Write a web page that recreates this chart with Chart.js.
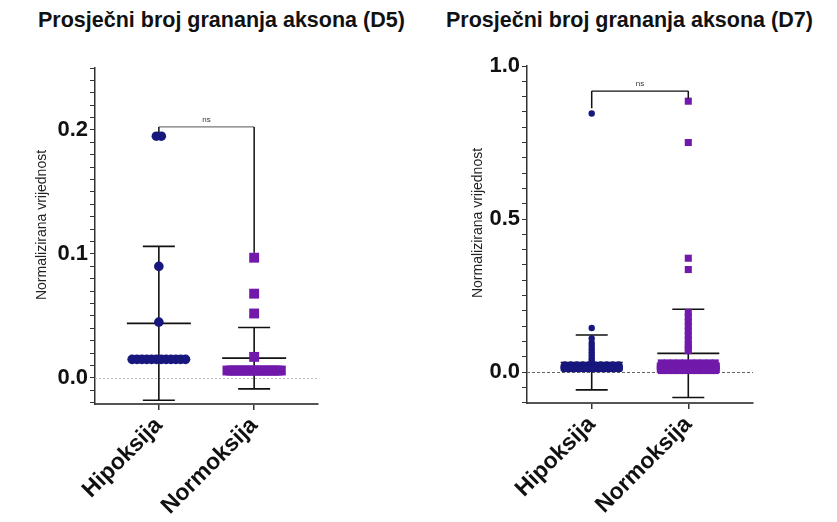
<!DOCTYPE html>
<html><head><meta charset="utf-8">
<script src="https://cdn.jsdelivr.net/npm/chart.js@4.4.0/dist/chart.umd.min.js"></script>
<style>
html,body{margin:0;padding:0;background:#fff;width:837px;height:522px;overflow:hidden;}
canvas{position:absolute;top:0;}
#c1{left:0;}
#c2{left:418px;}
.ttl{position:absolute;top:8px;font-family:"Liberation Sans",Arial,sans-serif;font-weight:bold;font-size:21.5px;line-height:24px;color:#111;white-space:nowrap;}
</style></head><body>
<div class="ttl" id="t1" style="left:38px"></div>
<div class="ttl" id="t2" style="left:446px"></div>
<canvas id="c1" width="418" height="522"></canvas>
<canvas id="c2" width="419" height="522"></canvas>
<script>
const categories = ['Hipoksija', 'Normoksija'];
const titleD5 = 'Prosječni broj grananja aksona (D5)';
const titleD7 = 'Prosječni broj grananja aksona (D7)';
const yAxisTitle = 'Normalizirana vrijednost';
const sigLabel = 'ns';

// D5 values
const d5Hipoksija = [0.195, 0.195, 0.09, 0.045,
  0.015, 0.015, 0.015, 0.015, 0.015, 0.015, 0.015, 0.015, 0.015, 0.015, 0.015, 0.015];
const d5Normoksija = [0.097, 0.068, 0.052, 0.017,
  0.006, 0.006, 0.006, 0.006, 0.006, 0.006, 0.006, 0.006, 0.006, 0.006,
  0.006, 0.006, 0.006, 0.006, 0.006, 0.006, 0.006];

// D7 values
const d7Hipoksija = [0.845, 0.144, 0.11, 0.095, 0.085, 0.075, 0.065, 0.055, 0.045, 0.038,
  0.025, 0.025, 0.025, 0.025, 0.025, 0.025, 0.025, 0.025, 0.025, 0.025,
  0.02, 0.02, 0.02, 0.02, 0.02, 0.02, 0.02, 0.02, 0.02, 0.02,
  0.02, 0.02, 0.02, 0.02, 0.02, 0.02, 0.02, 0.02, 0.02, 0.02,
  0.015, 0.015, 0.015, 0.015, 0.015, 0.015, 0.015, 0.015, 0.015, 0.015,
  0.015, 0.015, 0.015, 0.015, 0.015, 0.015, 0.015, 0.015, 0.015, 0.015,
  0.015, 0.015, 0.015, 0.015, 0.015,
  0.01, 0.01, 0.01, 0.01, 0.01, 0.01, 0.01, 0.01, 0.01, 0.01,
  0.01, 0.01, 0.01, 0.01, 0.01, 0.01, 0.01, 0.01, 0.01, 0.01,
  0.01, 0.01, 0.01, 0.01, 0.01];
const d7Normoksija = [0.885, 0.75, 0.372, 0.335,
  0.195, 0.18, 0.165, 0.15, 0.135, 0.12, 0.105, 0.09, 0.08, 0.07,
  0.03, 0.03, 0.03, 0.03, 0.03, 0.03, 0.03, 0.03, 0.03, 0.03,
  0.02, 0.02, 0.02, 0.02, 0.02, 0.02, 0.02, 0.02, 0.02, 0.02,
  0.02, 0.02, 0.02, 0.02, 0.02,
  0.01, 0.01, 0.01, 0.01, 0.01, 0.01, 0.01, 0.01, 0.01, 0.01,
  0.01, 0.01, 0.01, 0.01, 0.01, 0.01, 0.01, 0.01, 0.01, 0.01,
  0.01, 0.01, 0.01, 0.01, 0.01,
  0.005, 0.005, 0.005, 0.005, 0.005, 0.005, 0.005, 0.005, 0.005, 0.005];

// axis ticks
const d5TickValues = [0.0, 0.1, 0.2];
const d5TickLabels = ['0.0', '0.1', '0.2'];
const d7TickValues = [0.0, 0.5, 1.0];
const d7TickLabels = ['0.0', '0.5', '1.0'];

// significance brackets: [bar level, left drop end, right drop end]
const d5Bracket = [0.2025, 0.198, 0.101];
const d7Bracket = [0.918, 0.862, 0.895];

const FONT = '"Liberation Sans", Arial, Helvetica, sans-serif';
const colors = ['#17177e', '#7019aa'];
const pointStyles = ['circle', 'rect'];

document.getElementById('t1').textContent = titleD5;
document.getElementById('t2').textContent = titleD7;

function spread(values, catIndex, maxSpread, step) {
  const counts = {};
  values.forEach(v => counts[v] = (counts[v] || 0) + 1);
  const seen = {};
  return values.map(v => {
    const n = counts[v];
    const i = seen[v] = (seen[v] === undefined ? 0 : seen[v] + 1);
    const sp = n > 1 ? Math.min(step, maxSpread / (n - 1)) : 0;
    return { x: catIndex + 1 + (i - (n - 1) / 2) * sp, y: v };
  });
}

function stats(vals) {
  const n = vals.length;
  const m = vals.reduce((a, b) => a + b, 0) / n;
  const sd = Math.sqrt(vals.reduce((a, b) => a + (b - m) * (b - m), 0) / (n - 1));
  return { m, sd };
}

const gpPlugin = {
  id: 'gp',
  beforeDatasetsDraw(chart, args, o) {
    const ctx = chart.ctx, xs = chart.scales.x, ys = chart.scales.y, ca = chart.chartArea;
    ctx.save();
    ctx.strokeStyle = o.zeroColor; ctx.lineWidth = 1; ctx.setLineDash(o.zeroDash);
    const y0 = Math.round(ys.getPixelForValue(0)) + 0.5;
    ctx.beginPath(); ctx.moveTo(ca.left, y0); ctx.lineTo(ca.right, y0); ctx.stroke();
    ctx.restore();
    ctx.save();
    ctx.strokeStyle = '#111'; ctx.lineWidth = 1.6;
    chart.data.datasets.forEach((ds, i) => {
      const s = stats(ds.rawValues);
      const x = xs.getPixelForValue(i + 1);
      const yt = ys.getPixelForValue(s.m + s.sd), yb = ys.getPixelForValue(s.m - s.sd), ym = ys.getPixelForValue(s.m);
      ctx.beginPath();
      ctx.moveTo(x, yt); ctx.lineTo(x, yb);
      ctx.moveTo(x - o.capHalf, yt); ctx.lineTo(x + o.capHalf, yt);
      ctx.moveTo(x - o.capHalf, yb); ctx.lineTo(x + o.capHalf, yb);
      ctx.moveTo(x - o.meanHalf, ym); ctx.lineTo(x + o.meanHalf, ym);
      ctx.stroke();
    });
    ctx.restore();
  },
  afterDatasetsDraw(chart, args, o) {
    const ctx = chart.ctx, xs = chart.scales.x, ys = chart.scales.y;
    const b = o.bracket;
    const x1 = xs.getPixelForValue(1), x2 = xs.getPixelForValue(2);
    const yb = ys.getPixelForValue(b[0]);
    ctx.save();
    ctx.strokeStyle = o.barColor; ctx.lineWidth = 1.2;
    ctx.beginPath(); ctx.moveTo(x1, yb); ctx.lineTo(x2, yb); ctx.stroke();
    ctx.strokeStyle = '#111'; ctx.lineWidth = 1.5;
    ctx.beginPath();
    ctx.moveTo(x1, yb); ctx.lineTo(x1, ys.getPixelForValue(b[1]));
    ctx.moveTo(x2, yb); ctx.lineTo(x2, ys.getPixelForValue(b[2]));
    ctx.stroke();
    ctx.fillStyle = '#333'; ctx.font = '8px ' + FONT; ctx.textAlign = 'center'; ctx.textBaseline = 'bottom';
    ctx.fillText(sigLabel, (x1 + x2) / 2, yb - 3);
    ctx.restore();
  },
  afterDraw(chart, args, o) {
    const ctx = chart.ctx;
    ctx.save();
    ctx.translate(o.yTitleX, o.yTitleY);
    ctx.rotate(-Math.PI / 2);
    ctx.fillStyle = '#222'; ctx.font = '14px ' + FONT; ctx.textAlign = 'center'; ctx.textBaseline = 'middle';
    ctx.fillText(yAxisTitle, 0, 0);
    ctx.restore();
  }
};

function buildPanel(id, series, cfg) {
  const minor = [];
  for (let k = Math.round(cfg.yMin / cfg.minorStep); k * cfg.minorStep <= cfg.yMax + 1e-9; k++) {
    const v = +(k * cfg.minorStep).toFixed(4);
    if (v >= cfg.yMin - 1e-9) minor.push(v);
  }
  return new Chart(document.getElementById(id), {
    type: 'scatter',
    data: {
      datasets: series.map((vals, i) => ({
        label: categories[i],
        rawValues: vals,
        data: spread(vals, i, cfg.maxSpread, cfg.step),
        pointStyle: pointStyles[i],
        pointRadius: cfg.radius[i],
        pointHoverRadius: cfg.radius[i],
        backgroundColor: colors[i],
        borderColor: colors[i],
        borderWidth: 0
      }))
    },
    options: {
      responsive: false, animation: false, devicePixelRatio: 1, events: [],
      layout: { padding: { left: 0, top: cfg.top, right: cfg.right, bottom: 0 } },
      plugins: { legend: { display: false }, tooltip: { enabled: false }, gp: cfg },
      scales: {
        x: {
          type: 'linear', min: 0.33, max: 2.67,
          afterBuildTicks: a => { a.ticks = categories.map((c, i) => ({ value: i + 1 })); },
          afterFit: a => { a.height = cfg.xAxisHeight; },
          ticks: {
            autoSkip: false, minRotation: 45, maxRotation: 45, padding: 2, color: '#111',
            font: { family: FONT, size: 23, weight: 'bold' },
            callback: v => categories[Math.round(v) - 1]
          },
          grid: { drawOnChartArea: false, drawTicks: true, tickLength: 6, color: '#333', lineWidth: 1.5 },
          border: { display: true, color: '#555', width: 2 }
        },
        y: {
          type: 'linear', min: cfg.yMin, max: cfg.yMax,
          afterBuildTicks: a => { a.ticks = minor.map(v => ({ value: v })); },
          afterFit: a => { a.width = cfg.yAxisWidth; },
          ticks: {
            autoSkip: false, padding: 2, color: '#111',
            font: { family: FONT, size: 22, weight: 'bold' },
            callback: v => {
              const j = cfg.tickValues.findIndex(t => Math.abs(t - v) < 1e-6);
              return j >= 0 ? cfg.tickLabels[j] : '';
            }
          },
          grid: { drawOnChartArea: false, drawTicks: true, tickLength: 5, color: '#333', lineWidth: 1 },
          border: { display: true, color: '#333', width: 1.5 }
        }
      }
    },
    plugins: [gpPlugin]
  });
}

buildPanel('c1', [d5Hipoksija, d5Normoksija], {
  yMin: -0.021, yMax: 0.25, minorStep: 0.01,
  tickValues: d5TickValues, tickLabels: d5TickLabels,
  top: 68, right: 100, xAxisHeight: 118, yAxisWidth: 95,
  maxSpread: 0.56, step: 0.052, radius: [4.8, 7],
  zeroColor: '#bbb', zeroDash: [2, 2],
  capHalf: 16, meanHalf: 32,
  bracket: d5Bracket, barColor: '#777',
  yTitleX: 42, yTitleY: 225
});

buildPanel('c2', [d7Hipoksija, d7Normoksija], {
  yMin: -0.101, yMax: 1.0, minorStep: 0.05,
  tickValues: d7TickValues, tickLabels: d7TickLabels,
  top: 66, right: 84, xAxisHeight: 119, yAxisWidth: 109,
  maxSpread: 0.58, step: 0.062, radius: [3.2, 5],
  zeroColor: '#666', zeroDash: [3, 2],
  capHalf: 16, meanHalf: 31,
  bracket: d7Bracket, barColor: '#111',
  yTitleX: 60, yTitleY: 223
});
</script>
</body></html>
